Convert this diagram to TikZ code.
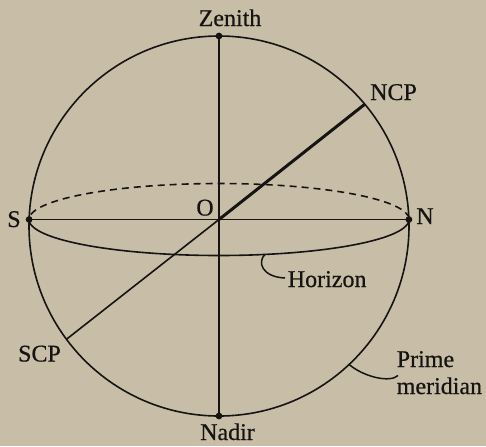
\documentclass[tikz,border=0pt]{standalone}
\usepackage{fontspec}
\setmainfont{Liberation Serif}
\newfontfamily\lblfont{Liberation Serif}[FakeBold=0.6]
\definecolor{paper}{RGB}{200,190,168}
\definecolor{ink}{RGB}{22,20,18}
\begin{document}
\begin{tikzpicture}[x=0.5pt,y=-0.5pt,
  line width=0.8pt, draw=ink,
  lbl/.style={font=\lblfont\fontsize{12}{13.5}\selectfont, text=ink, inner sep=0pt},
  dotpt/.style={fill=ink, draw=none, circle, minimum size=3.4pt, inner sep=0pt},
  thickaxis/.style={line width=1.5pt},
  leader/.style={line width=0.75pt}]
\fill[paper] (0,0) rectangle (486,446);
\useasboundingbox (0,0) rectangle (486,446);
% key points
\coordinate (C) at (219,226);
\coordinate (O) at (219,219.5);
\coordinate (S) at (29.1,219.5);
\coordinate (N) at (408.9,219.5);
\coordinate (Z) at (219,36);
\coordinate (D) at (219,416);
\coordinate (NCP) at (364.8,104.2);
\coordinate (SCP) at (66.4,339.3);
\coordinate (Hl) at (265,254.4);
\coordinate (Hr) at (285,278);
\coordinate (Pl) at (349.1,364.5);
\coordinate (Pr) at (398,375.5);
% sphere
\draw (C) circle[radius=190];
% horizon
\draw[dash pattern=on 3.5pt off 2.5pt] plot[domain=188:354, samples=80] ({219+190*cos(\x)},{219.5+36*sin(\x)});
\draw plot[domain=0:180, samples=100] ({219+190*cos(\x)},{219.5+36*sin(\x)});
% axes
\draw (S) -- (N);
\draw (Z) -- (D);
\draw[thickaxis] (O) -- (NCP);
\draw (O) -- (SCP);
% leaders
\draw[leader] (Hl) .. controls (257,262) and (262,277) .. (Hr);
\draw[leader] (Pl) .. controls (364,377) and (390,383) .. (Pr);
% dots
\node[dotpt] at (Z) {};
\node[dotpt] at (D) {};
\node[dotpt] at (S) {};
\node[dotpt] at (N) {};
% labels
\node[lbl, anchor=base] (tZ) at (230,26) {Zenith};
\node[lbl, anchor=base] (tNCP) at (393.5,100) {NCP};
\node[lbl, anchor=base] (tS) at (14,227) {S};
\node[lbl, anchor=base] (tN) at (425,224) {N};
\node[lbl, anchor=base] (tO) at (205,215.5) {O};
\node[lbl, anchor=base west] (tH) at (287,287) {Horizon};
\node[lbl, anchor=base] (tSCP) at (39.5,361.5) {SCP};
\node[lbl, anchor=base west] (tP1) at (396,367) {Prime};
\node[lbl, anchor=base west] (tP2) at (396,394) {meridian};
\node[lbl, anchor=base] (tD) at (227.5,440) {Nadir};
\end{tikzpicture}
\end{document}
